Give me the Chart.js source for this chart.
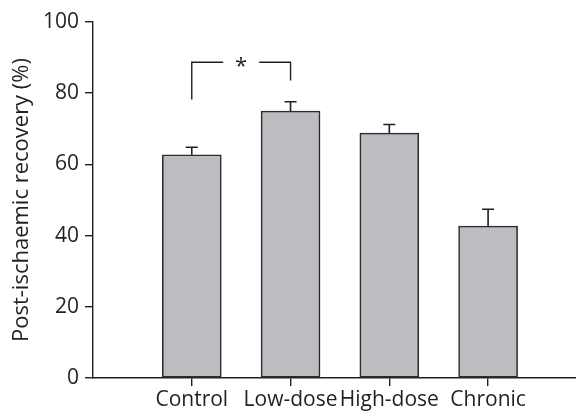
<!DOCTYPE html>
<html>
<head>
<meta charset="utf-8">
<script src="https://cdn.jsdelivr.net/npm/chart.js@4/dist/chart.umd.min.js"></script>
<style>
html,body{margin:0;padding:0;background:#fff;}
#wrap{width:576px;height:411px;}
</style>
</head>
<body>
<div id="wrap"><canvas id="c" width="576" height="411"></canvas></div>
<script>
const categories = ['Control', 'Low-dose', 'High-dose', 'Chronic'];
const means = [62.7, 75.0, 68.8, 42.7];
const errors = [2.1, 2.6, 2.4, 4.7];
const yTicks = [0, 20, 40, 60, 80, 100];
const yTitle = 'Post-ischaemic recovery (%)';
const sigPair = [0, 1];
const sigLevels = [78.2, 88.7, 83.6]; // left foot, top, right foot
const sigLabel = '*';

const INK = '#231f20';
const FONT = '"Open Sans", "DejaVu Sans", sans-serif';

const errorBars = {
  id: 'errorBars',
  afterDatasetsDraw(chart) {
    const {ctx, scales: {x, y}} = chart;
    ctx.save();
    ctx.strokeStyle = INK;
    ctx.lineWidth = 1.6;
    means.forEach((m, i) => {
      const px = x.getPixelForValue(i + 1);
      const top = y.getPixelForValue(m + errors[i]);
      const base = y.getPixelForValue(m);
      ctx.beginPath();
      ctx.moveTo(px, base);
      ctx.lineTo(px, top);
      ctx.moveTo(px - 6, top);
      ctx.lineTo(px + 6, top);
      ctx.stroke();
    });
    // significance bracket
    const x1 = x.getPixelForValue(sigPair[0] + 1);
    const x2 = x.getPixelForValue(sigPair[1] + 1);
    const yl = y.getPixelForValue(sigLevels[0]);
    const yt = y.getPixelForValue(sigLevels[1]);
    const yr = y.getPixelForValue(sigLevels[2]);
    const mid = (x1 + x2) / 2;
    const gap = 18;
    ctx.lineWidth = 1.4;
    ctx.beginPath();
    ctx.moveTo(x1, yl);
    ctx.lineTo(x1, yt);
    ctx.lineTo(mid - gap, yt);
    ctx.moveTo(mid + gap, yt);
    ctx.lineTo(x2, yt);
    ctx.lineTo(x2, yr);
    ctx.stroke();
    ctx.fillStyle = INK;
    ctx.font = '22px ' + FONT;
    ctx.textAlign = 'center';
    ctx.textBaseline = 'middle';
    ctx.fillText(sigLabel, mid, yt + 5);
    ctx.restore();
  }
};

new Chart(document.getElementById('c'), {
  type: 'bar',
  data: {
    datasets: [{
      data: means.map((v, i) => ({x: i + 1, y: v})),
      backgroundColor: '#bcbdc1',
      borderColor: '#2b2b2b',
      borderWidth: 1.6,
      borderSkipped: false,
      barThickness: 59
    }]
  },
  options: {
    responsive: false,
    animation: false,
    devicePixelRatio: 1,
    layout: {padding: {top: 22, right: 0, left: 0, bottom: 0}},
    plugins: {legend: {display: false}, tooltip: {enabled: false}},
    scales: {
      x: {
        type: 'linear',
        offset: false,
        min: 0,
        max: 4.89,
        afterBuildTicks(scale) {
          scale.ticks = categories.map((c, i) => ({value: i + 1}));
        },
        afterFit(scale) { scale.height = 33; },
        ticks: {
          callback: (v) => categories[v - 1] || '',
          color: INK,
          font: {family: FONT, size: 21},
          padding: 1,
          maxRotation: 0,
          autoSkip: false
        },
        grid: {display: true, offset: false, drawOnChartArea: false, drawTicks: true, tickLength: 8, color: INK, lineWidth: 1.4},
        border: {display: true, color: INK, width: 1.4}
      },
      y: {
        min: 0,
        max: 100,
        afterBuildTicks(scale) {
          scale.ticks = yTicks.map(v => ({value: v}));
        },
        afterFit(scale) { scale.width = 93; },
        ticks: {
          color: INK,
          font: {family: FONT, size: 21},
          padding: 6
        },
        grid: {display: true, drawOnChartArea: false, drawTicks: true, tickLength: 8, color: INK, lineWidth: 1.4},
        border: {display: true, color: INK, width: 1.4},
        title: {
          display: true,
          text: yTitle,
          color: INK,
          font: {family: FONT, size: 22},
          padding: {top: 9, bottom: 0}
        }
      }
    }
  },
  plugins: [errorBars]
});
</script>
</body>
</html>
